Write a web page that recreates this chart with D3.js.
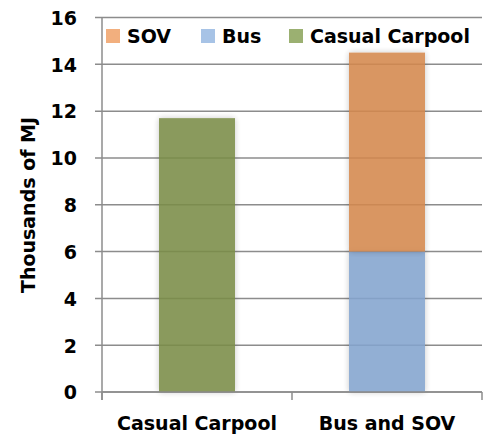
<!DOCTYPE html>
<html>
<head>
<meta charset="utf-8">
<script src="https://cdn.jsdelivr.net/npm/d3@7"></script>
<style>
  body { margin: 0; background: #fff; }
  text { font-family: "DejaVu Sans", sans-serif; font-weight: bold; fill: #000; }
</style>
</head>
<body>
<svg id="chart" width="487" height="437"></svg>
<script>
// data (thousands of MJ)
const categories = ["Casual Carpool", "Bus and SOV"];
const busValues = [0, 6.0];
const sovValues = [0, 8.5];
const carpoolValues = [11.7, 0];
const legendNames = ["SOV", "Bus", "Casual Carpool"];
const yTicks = [0, 2, 4, 6, 8, 10, 12, 14, 16];

const rows = categories.map((c, i) => ({
  cat: c, "Bus": busValues[i], "SOV": sovValues[i], "Casual Carpool": carpoolValues[i]
}));

const barColor = { "SOV": "#d4884e", "Bus": "#84a4cf", "Casual Carpool": "#7a8d46" };
const swatchColor = { "SOV": "#f2af7e", "Bus": "#a7c3e6", "Casual Carpool": "#9bb071" };

const svg = d3.select("#chart");
const plotL = 102, plotR = 482, plotT = 17.5, plotB = 392;

const y = d3.scaleLinear().domain([0, 16]).range([plotB, plotT]);
const x = d3.scaleBand().domain(categories).range([plotL, plotR])
  .paddingInner(0.6).paddingOuter(0.3);

// shadow for bars
const defs = svg.append("defs");
const f = defs.append("filter").attr("id", "shadow")
  .attr("x", "-30%").attr("y", "-10%").attr("width", "160%").attr("height", "120%");
f.append("feGaussianBlur").attr("in", "SourceAlpha").attr("stdDeviation", 3).attr("result", "blur");
f.append("feComponentTransfer").attr("in", "blur").attr("result", "b")
  .append("feFuncA").attr("type", "linear").attr("slope", 0.25);
const m = f.append("feMerge");
m.append("feMergeNode").attr("in", "b");
m.append("feMergeNode").attr("in", "SourceGraphic");

// grid
svg.append("g").selectAll("line").data(yTicks).join("line")
  .attr("x1", plotL - 7).attr("x2", plotR)
  .attr("y1", d => y(d)).attr("y2", d => y(d))
  .attr("stroke", "#8c8c8c").attr("stroke-width", 1.5);

// y axis
const yAxis = d3.axisLeft(y).tickValues(yTicks).tickSize(0).tickPadding(25);
const gy = svg.append("g").attr("transform", `translate(${plotL},0)`).call(yAxis);
gy.select(".domain").remove();
gy.selectAll("text").attr("font-size", 19).attr("dy", "0.36em")
  .style("font-family", "DejaVu Sans").style("font-weight", "bold");

svg.append("line").attr("x1", plotL).attr("x2", plotL)
  .attr("y1", plotT).attr("y2", plotB + 8)
  .attr("stroke", "#8c8c8c").attr("stroke-width", 1.5);

// bars
const stack = d3.stack().keys(["Bus", "SOV", "Casual Carpool"]);
const series = stack(rows);
svg.append("g").selectAll("g").data(series).join("g")
  .attr("fill", d => barColor[d.key])
  .attr("opacity", 0.88)
  .selectAll("rect").data(d => d.filter(p => p[1] > p[0])).join("rect")
  .attr("x", d => x(d.data.cat))
  .attr("width", x.bandwidth())
  .attr("y", d => y(d[1]))
  .attr("height", d => y(d[0]) - y(d[1]))
  .attr("filter", "url(#shadow)");

// x axis
svg.append("line").attr("x1", plotL).attr("x2", plotR)
  .attr("y1", plotB).attr("y2", plotB)
  .attr("stroke", "#8c8c8c").attr("stroke-width", 1.5);
const bounds = [plotL, plotL + x.step(), plotR];
svg.append("g").selectAll("line").data(bounds).join("line")
  .attr("x1", d => d).attr("x2", d => d)
  .attr("y1", plotB).attr("y2", plotB + 8)
  .attr("stroke", "#8c8c8c").attr("stroke-width", 1.5);
svg.append("g").selectAll("text").data(categories).join("text")
  .attr("x", d => x(d) + x.bandwidth() / 2)
  .attr("y", 430)
  .attr("text-anchor", "middle")
  .attr("font-size", 19)
  .text(d => d);

// y title
svg.append("text")
  .attr("transform", "translate(35,205) rotate(-90)")
  .attr("text-anchor", "middle")
  .attr("font-size", 19)
  .text("Thousands of MJ");

// legend
const legendX = [106, 201, 289];
const lg = svg.append("g").selectAll("g").data(legendNames).join("g")
  .attr("transform", (d, i) => `translate(${legendX[i]},29)`);
lg.append("rect").attr("width", 14).attr("height", 14).attr("fill", d => swatchColor[d]);
lg.append("text").attr("x", 21).attr("y", 14).attr("font-size", 19).text(d => d);
</script>
</body>
</html>
